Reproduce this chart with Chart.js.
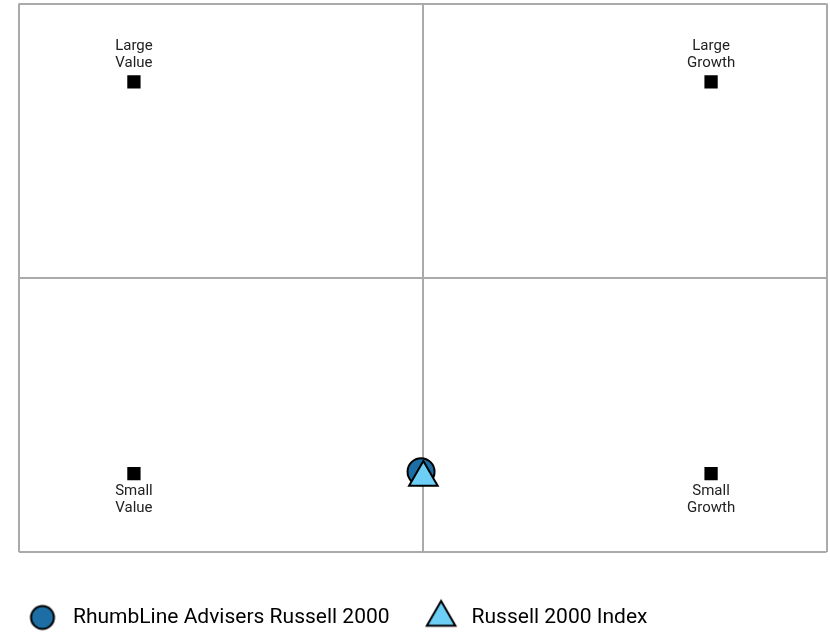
<!DOCTYPE html>
<html>
<head>
<meta charset="utf-8">
<script src="https://cdn.jsdelivr.net/npm/chart.js@4/dist/chart.umd.min.js"></script>
<style>
    html, body { margin: 0; padding: 0; background: #fff; }
    #wrap { width: 830px; height: 632px; }
</style>
</head>
<body>
<div id="wrap"><canvas id="styleBox"></canvas></div>
<script>
// Style box corners
const boxLabels = [['Large', 'Value'], ['Large', 'Growth'], ['Small', 'Value'], ['Small', 'Growth']];
const boxX = [-1, 1, -1, 1];
const boxY = [1, 1, -1, -1];

// Series positions
const seriesNames = ['RhumbLine Advisers Russell 2000', 'Russell 2000 Index'];
const fundX = [-0.005];
const fundY = [-0.99];
const indexX = [0.003];
const indexY = [-1.02];

// Axis range and grid lines
const axisMin = -1.4;
const axisMax = 1.4;
const gridTicks = [-1.4, 0, 1.4];

const fundColor = '#1c6ea4';
const indexColor = '#6dcff6';

function toPoints(xs, ys) {
    return xs.map((x, i) => ({ x: x, y: ys[i] }));
}

// legend icons drawn on small canvases so they can differ in size
function legendIcon(style, radius, fill) {
    const c = document.createElement('canvas');
    c.width = 40;
    c.height = 40;
    const g = c.getContext('2d');
    g.fillStyle = fill;
    g.strokeStyle = '#000';
    g.lineWidth = 2;
    Chart.helpers.drawPoint(g, { pointStyle: style, radius: radius, borderWidth: 2, rotation: 0 }, 20, 20);
    return c;
}
const legendIcons = [legendIcon('circle', 11.5, fundColor), legendIcon('triangle', 16.5, indexColor)];

// Labels above/below the corner squares
const boxLabelPlugin = {
    id: 'boxLabels',
    afterDatasetsDraw(chart) {
        const meta = chart.getDatasetMeta(2);
        const ctx = chart.ctx;
        ctx.save();
        ctx.font = '15px Roboto';
        ctx.fillStyle = '#222';
        ctx.textAlign = 'center';
        ctx.textBaseline = 'alphabetic';
        meta.data.forEach((pt, i) => {
            const lines = boxLabels[i];
            const offs = boxY[i] > 0 ? [-32, -15] : [21.5, 38.5];
            lines.forEach((t, j) => ctx.fillText(t, pt.x, pt.y + offs[j]));
        });
        ctx.restore();
    }
};

const gridOpts = {
    color: '#aaaaaa',
    lineWidth: 2,
    drawTicks: false
};

new Chart(document.getElementById('styleBox'), {
    type: 'scatter',
    data: {
        datasets: [
            {
                label: seriesNames[0],
                data: toPoints(fundX, fundY),
                pointStyle: 'circle',
                pointRadius: 13.5,
                backgroundColor: fundColor,
                borderColor: '#000',
                borderWidth: 2,
                order: 2
            },
            {
                label: seriesNames[1],
                data: toPoints(indexX, indexY),
                pointStyle: 'triangle',
                pointRadius: 16.5,
                backgroundColor: indexColor,
                borderColor: '#000',
                borderWidth: 2,
                order: 1
            },
            {
                label: 'Style',
                data: toPoints(boxX, boxY),
                pointStyle: 'rect',
                pointRadius: 9.4,
                backgroundColor: '#000',
                borderWidth: 0,
                order: 3
            }
        ]
    },
    options: {
        responsive: true,
        maintainAspectRatio: false,
        animation: false,
        events: [],
        layout: {
            autoPadding: false,
            padding: { left: -9, top: 3.5, right: 3.5, bottom: -6 }
        },
        plugins: {
            tooltip: { enabled: false },
            legend: {
                position: 'bottom',
                align: 'start',
                labels: {
                    usePointStyle: true,
                    pointStyleWidth: 40,
                    padding: 31.5,
                    color: '#222',
                    font: { family: 'Roboto', size: 21 },
                    filter: (item) => item.datasetIndex < 2,
                    generateLabels: (chart) => chart.data.datasets.map((ds, i) => ({
                        text: ds.label,
                        pointStyle: legendIcons[i] || 'rect',
                        fillStyle: ds.backgroundColor,
                        strokeStyle: '#000',
                        lineWidth: 2,
                        hidden: false,
                        datasetIndex: i
                    }))
                }
            }
        },
        scales: {
            x: {
                type: 'linear',
                min: axisMin,
                max: axisMax,
                afterBuildTicks: (s) => { s.ticks = gridTicks.map(v => ({ value: v })); },
                afterFit: (s) => { s.height = 23.5; },
                ticks: { display: false },
                grid: gridOpts,
                border: { display: false }
            },
            y: {
                type: 'linear',
                min: axisMin,
                max: axisMax,
                afterBuildTicks: (s) => { s.ticks = gridTicks.map(v => ({ value: v })); },
                afterFit: (s) => { s.width = 27.5; },
                ticks: { display: false },
                grid: gridOpts,
                border: { display: false }
            }
        }
    },
    plugins: [boxLabelPlugin]
});
</script>
</body>
</html>
